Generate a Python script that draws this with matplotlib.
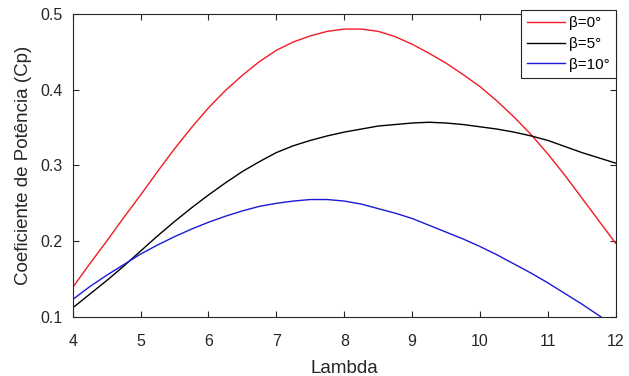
import numpy as np
import matplotlib
matplotlib.use("Agg")
import matplotlib.pyplot as plt

# values (lambda step 0.25)
lambda_vals = [4, 4.25, 4.5, 4.75, 5, 5.25, 5.5, 5.75, 6, 6.25, 6.5, 6.75, 7, 7.25, 7.5, 7.75,
               8, 8.25, 8.5, 8.75, 9, 9.25, 9.5, 9.75, 10, 10.25, 10.5, 10.75, 11, 11.25,
               11.5, 11.75, 12]
cp_beta0 = [0.139, 0.170, 0.200, 0.231, 0.261, 0.292, 0.322, 0.350, 0.376, 0.399, 0.419,
            0.437, 0.452, 0.463, 0.471, 0.477, 0.480, 0.480, 0.477, 0.470, 0.460, 0.448,
            0.435, 0.420, 0.404, 0.385, 0.364, 0.341, 0.315, 0.287, 0.257, 0.227, 0.197]
cp_beta5 = [0.112, 0.130, 0.148, 0.167, 0.187, 0.207, 0.226, 0.244, 0.261, 0.277, 0.292,
            0.305, 0.317, 0.326, 0.333, 0.339, 0.344, 0.348, 0.352, 0.354, 0.356, 0.357,
            0.356, 0.354, 0.351, 0.348, 0.344, 0.339, 0.333, 0.325, 0.317, 0.310, 0.303]
cp_beta10 = [0.123, 0.140, 0.155, 0.169, 0.183, 0.195, 0.206, 0.216, 0.225, 0.233, 0.240,
             0.246, 0.250, 0.253, 0.255, 0.255, 0.253, 0.249, 0.243, 0.237, 0.230, 0.221,
             0.212, 0.203, 0.193, 0.182, 0.170, 0.158, 0.145, 0.131, 0.117, 0.102, 0.087]
labels = ["β=0°", "β=5°", "β=10°"]
xticks = [4, 5, 6, 7, 8, 9, 10, 11, 12]
yticks = [0.1, 0.2, 0.3, 0.4, 0.5]

plt.rcParams['font.family'] = ['Liberation Sans', 'DejaVu Sans']

fig = plt.figure(figsize=(6.29, 3.76), dpi=100)
ax = fig.add_axes([0.1156, 0.157, 0.8634, 0.806])

ax.plot(lambda_vals, cp_beta0, color=(0.95, 0.1, 0.15), lw=1.0, label=labels[0])
ax.plot(lambda_vals, cp_beta5, color='black', lw=1.0, label=labels[1])
ax.plot(lambda_vals, cp_beta10, color=(0.1, 0.1, 0.85), lw=1.0, label=labels[2])

ax.set_xlim(4, 12)
ax.set_ylim(0.1, 0.5)
ax.set_xticks(xticks)
ax.set_yticks(yticks)
ax.set_yticklabels(["%.1f" % v for v in yticks])
ax.tick_params(direction='in', top=True, right=True, length=4, width=0.8,
               colors='#262626', labelsize=11.5)
ax.tick_params(axis='x', pad=12)
ax.tick_params(axis='y', pad=7)
for s in ax.spines.values():
    s.set_color('#262626')
    s.set_linewidth(0.8)

ax.set_xlabel("Lambda", fontsize=13.5, color='#262626', labelpad=8)
ax.set_ylabel("Coeficiente de Potência (Cp)", fontsize=13.5, color='#262626', labelpad=6)

leg = ax.legend(loc='upper right', bbox_to_anchor=(1.0, 1.013), fontsize=11,
                handlelength=2.5, handletextpad=0.25, labelspacing=0.45,
                borderaxespad=0, borderpad=0.4, fancybox=False, framealpha=1)
leg.get_frame().set_edgecolor('#262626')
leg.get_frame().set_linewidth(0.8)

fig.savefig("out.png", dpi=100)
